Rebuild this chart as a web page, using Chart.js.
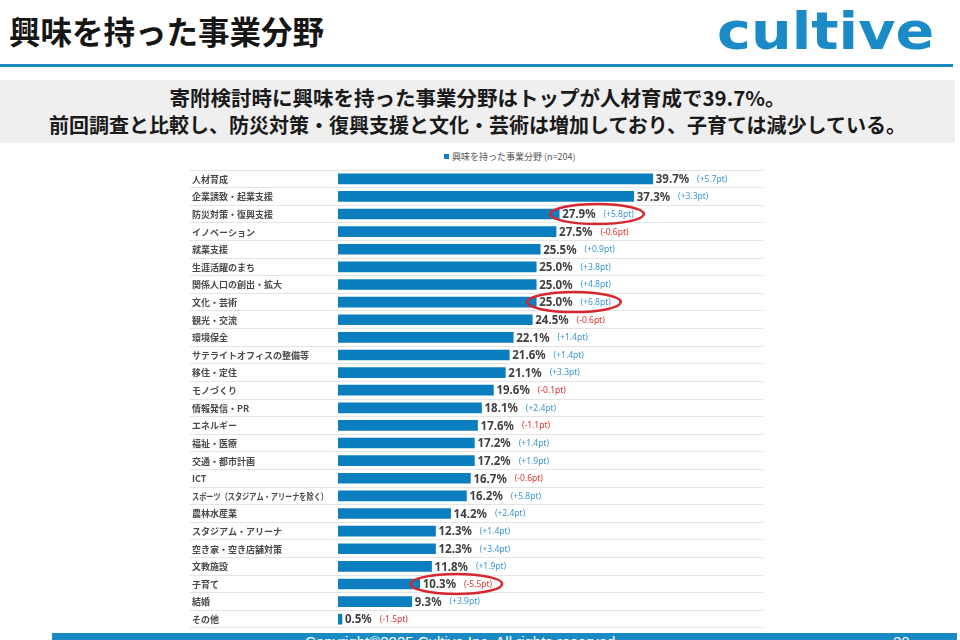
<!DOCTYPE html>
<html><head><meta charset="utf-8">
<script src="https://cdn.jsdelivr.net/npm/chart.js@4.4.1/dist/chart.umd.min.js"></script>
<style>
html,body{margin:0;padding:0;background:#fff;}
body{width:960px;height:640px;position:relative;overflow:hidden;font-family:"Noto Sans CJK JP","Noto Sans",sans-serif;}
#title{position:absolute;left:9px;top:8px;font-size:31.5px;font-weight:bold;color:#161616;line-height:44px;white-space:nowrap;}
#logo{position:absolute;left:717px;top:-1px;font-family:"DejaVu Sans";font-weight:bold;font-size:52px;color:#1a8bc6;letter-spacing:0;line-height:64px;transform:scaleX(1.1);transform-origin:left top;}
#rule{position:absolute;left:0;top:64px;width:953px;height:3px;background:#1a8ac4;}
#band{position:absolute;left:0;top:80px;width:955px;height:63px;background:#efefef;padding-top:4px;box-sizing:border-box;}
#band div{text-align:center;font-size:20px;font-weight:bold;color:#1a1a1a;line-height:27px;white-space:nowrap;}
#band div.l1{font-size:20.5px;}
#legend{position:absolute;left:444px;top:150px;font-size:9px;color:#555;line-height:14px;white-space:nowrap;}
#legend span{display:inline-block;width:5px;height:5px;background:#0b7ec0;margin-right:3px;vertical-align:middle;position:relative;top:-1px;}
#chart{position:absolute;left:0;top:0;}
#footer{position:absolute;left:52px;top:633px;width:905px;height:20px;background:#1a8ac4;color:#fff;font-family:"Liberation Sans",Arial,sans-serif;font-size:15px;line-height:18px;z-index:2;}
#footer .c{position:absolute;left:253px;top:0;white-space:nowrap;}
#footer .p{position:absolute;left:841px;top:0;}
</style>
</head>
<body>
<div id="title">興味を持った事業分野</div>
<div id="logo">cultive</div>
<div id="rule"></div>
<div id="band">
  <div class="l1">寄附検討時に興味を持った事業分野はトップが人材育成で39.7%。</div>
  <div>前回調査と比較し、防災対策・復興支援と文化・芸術は増加しており、子育ては減少している。</div>
</div>
<div id="legend"><span></span>興味を持った事業分野 (n=204)</div>
<canvas id="chart" width="960" height="640"></canvas>
<div id="footer"><span class="c">Copyright©2025 Cultive Inc. All rights reserved</span><span class="p">20</span></div>
<script>
const categories = [
  "人材育成","企業誘致・起業支援","防災対策・復興支援","イノベーション","就業支援",
  "生涯活躍のまち","関係人口の創出・拡大","文化・芸術","観光・交流","環境保全",
  "サテライトオフィスの整備等","移住・定住","モノづくり","情報発信・PR","エネルギー",
  "福祉・医療","交通・都市計画","ICT","スポーツ（スタジアム・アリーナを除く）","農林水産業",
  "スタジアム・アリーナ","空き家・空き店舗対策","文教施設","子育て","結婚","その他"
];
const values = [39.7,37.3,27.9,27.5,25.5,25.0,25.0,25.0,24.5,22.1,21.6,21.1,19.6,18.1,17.6,17.2,17.2,16.7,16.2,14.2,12.3,12.3,11.8,10.3,9.3,0.5];
const diffs = [5.7,3.3,5.8,-0.6,0.9,3.8,4.8,6.8,-0.6,1.4,1.4,3.3,-0.1,2.4,-1.1,1.4,1.9,-0.6,5.8,2.4,1.4,3.4,1.9,-5.5,3.9,-1.5];
const highlighted = ["防災対策・復興支援","文化・芸術","子育て"];
const seriesLabel = "興味を持った事業分野 (n=204)";

const labelPlugin = {
  id: 'labels',
  afterDatasetsDraw(chart) {
    const ctx = chart.ctx;
    const yS = chart.scales.y;
    const meta = chart.getDatasetMeta(0);
    ctx.save();
    ctx.textBaseline = 'middle';
    ctx.textAlign = 'left';
    ctx.font = 'bold 9px "Noto Sans CJK JP"';
    ctx.fillStyle = '#4a4a4a';
    categories.forEach((c, i) => {
      ctx.fillText(c, yS.left + 2, yS.getPixelForTick(i) + 0.5, 136);
    });
    meta.data.forEach((bar, i) => {
      const x = bar.x, y = bar.y;
      const vt = values[i].toFixed(1) + '%';
      ctx.font = 'bold 11.5px "Noto Sans"';
      ctx.fillStyle = '#404040';
      ctx.fillText(vt, x + 3, y + 1);
      const vw = ctx.measureText(vt).width;
      const dt = '(' + (diffs[i] > 0 ? '+' : '') + diffs[i].toFixed(1) + 'pt)';
      ctx.font = '8.5px "Noto Sans"';
      ctx.fillStyle = diffs[i] >= 0 ? '#3b97cf' : '#e0302e';
      const dx = x + 3 + vw + 8;
      ctx.fillText(dt, dx, y + 0.5);
      const dw = ctx.measureText(dt).width;
      if (highlighted.includes(categories[i])) {
        const l = x - 9, r = dx + dw + 10;
        ctx.beginPath();
        ctx.ellipse((l + r) / 2, y, (r - l) / 2, 10, 0, 0, Math.PI * 2);
        ctx.strokeStyle = '#d8262e';
        ctx.lineWidth = 2.5;
        ctx.stroke();
      }
    });
    ctx.restore();
  }
};

new Chart(document.getElementById('chart'), {
  type: 'bar',
  data: {
    labels: categories,
    datasets: [{ label: seriesLabel, data: values, backgroundColor: '#0b7ec0', barThickness: 10 }]
  },
  options: {
    indexAxis: 'y',
    responsive: false,
    animation: false,
    layout: { padding: { left: 190, right: 197, top: 170, bottom: 12 } },
    plugins: { legend: { display: false }, tooltip: { enabled: false } },
    scales: {
      x: { display: false, min: 0, max: 53.6 },
      y: {
        grid: { color: '#e4e4e4', tickLength: 148, offset: true, lineWidth: 1 },
        border: { display: false },
        ticks: { display: false },
        afterFit(s) { s.width = 148; }
      }
    }
  },
  plugins: [labelPlugin]
});
</script>
</body></html>
